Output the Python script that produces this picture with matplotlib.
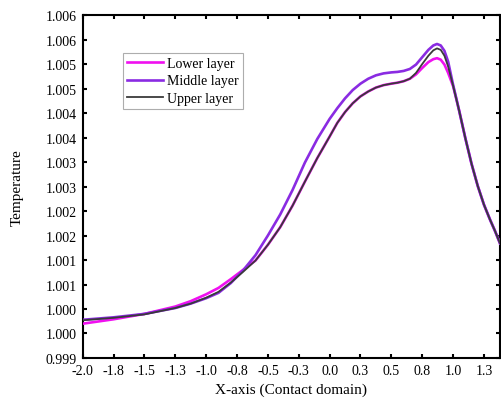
import matplotlib
matplotlib.use("Agg")
import matplotlib.pyplot as plt
from matplotlib.ticker import FixedLocator, FixedFormatter

plt.rcParams['font.family'] = ['Liberation Serif', 'DejaVu Serif']

x = [-2.0, -1.75, -1.5, -1.25, -1.125, -1.0, -0.9, -0.8, -0.7, -0.6, -0.5, -0.4, -0.3, -0.2, -0.1,
     0.0, 0.0625, 0.125, 0.1875, 0.25, 0.3125, 0.375, 0.4375, 0.5, 0.55, 0.6, 0.65, 0.7, 0.75, 0.8,
     0.84, 0.87, 0.9, 0.93, 0.96, 1.0, 1.025, 1.05, 1.075, 1.1, 1.15, 1.2, 1.25, 1.3, 1.34, 1.38]

lower = [0.99970, 0.99979, 0.99990, 1.00005, 1.00016, 1.00030, 1.00043, 1.00061, 1.00080, 1.00099,
         1.00131, 1.00167, 1.00211, 1.00260, 1.00308,
         1.00352, 1.00380, 1.00402, 1.00420, 1.00434, 1.00444, 1.00452, 1.00457, 1.00460, 1.00462,
         1.00465, 1.00470, 1.00479, 1.00492, 1.00504,
         1.00510, 1.00512, 1.00509, 1.00499, 1.00482, 1.00455, 1.00430, 1.00404, 1.00376, 1.00348,
         1.00296, 1.00251, 1.00213, 1.00182, 1.00159, 1.00134]

middle = [0.99978, 0.99983, 0.99990, 1.00002, 1.00011, 1.00022, 1.00033, 1.00053, 1.00079, 1.00110,
          1.00150, 1.00193, 1.00243, 1.00299, 1.00347,
          1.00388, 1.00410, 1.00430, 1.00447, 1.00460, 1.00470, 1.00477, 1.00481, 1.00483, 1.00484,
          1.00486, 1.00490, 1.00499, 1.00514, 1.00529,
          1.00538, 1.00541, 1.00538, 1.00527, 1.00505, 1.00458, 1.00431, 1.00404, 1.00376, 1.00348,
          1.00296, 1.00251, 1.00213, 1.00182, 1.00159, 1.00134]

upper = [0.99977, 0.99982, 0.99989, 1.00002, 1.00011, 1.00023, 1.00035, 1.00054, 1.00076, 1.00099,
         1.00131, 1.00167, 1.00211, 1.00260, 1.00308,
         1.00352, 1.00380, 1.00402, 1.00420, 1.00434, 1.00444, 1.00452, 1.00457, 1.00460, 1.00462,
         1.00465, 1.00470, 1.00482, 1.00500, 1.00517,
         1.00528, 1.00532, 1.00529, 1.00517, 1.00495, 1.00456, 1.00430, 1.00404, 1.00376, 1.00348,
         1.00296, 1.00251, 1.00213, 1.00182, 1.00159, 1.00134]

xticks = [-2.0, -1.75, -1.5, -1.25, -1.0, -0.75, -0.5, -0.25, 0.0, 0.25, 0.5, 0.75, 1.0, 1.25]
xticklabels = ['-2.0', '-1.8', '-1.5', '-1.3', '-1.0', '-0.8', '-0.5', '-0.3', '0.0', '0.3', '0.5', '0.8', '1.0', '1.3']
xlong = [-2.0, -1.5, -1.0, -0.5, 0.0, 0.5, 1.0]

yticks = [0.9990, 0.9995, 1.0000, 1.0005, 1.0010, 1.0015, 1.0020, 1.0025, 1.0030, 1.0035,
          1.0040, 1.0045, 1.0050, 1.0055, 1.0060]
yticklabels = ['0.999', '1.000', '1.000', '1.001', '1.001', '1.002', '1.002', '1.003', '1.003', '1.004',
               '1.004', '1.005', '1.005', '1.006', '1.006']
ylong = [0.9995, 1.0005, 1.0015, 1.0025, 1.0035, 1.0045, 1.0055]

fig = plt.figure(figsize=(5.02, 4.02), dpi=100)
ax = fig.add_axes([0.1647, 0.107, 0.8313, 0.853])

ax.plot(x, lower, color='#f010f0', lw=1.9, label='Lower layer', zorder=3, solid_joinstyle='round')
ax.plot(x, middle, color='#8a2be2', lw=1.9, label='Middle layer', zorder=4, solid_joinstyle='round')
ax.plot(x, upper, color='#3a3a3a', lw=1.3, label='Upper layer', zorder=5, solid_joinstyle='round')

ax.set_xlim(-2.0, 1.38)
ax.set_ylim(0.999, 1.006)

ax.xaxis.set_major_locator(FixedLocator(xticks))
ax.xaxis.set_major_formatter(FixedFormatter(xticklabels))
ax.xaxis.set_minor_locator(FixedLocator(xlong))
ax.yaxis.set_major_locator(FixedLocator(yticks))
ax.yaxis.set_major_formatter(FixedFormatter(yticklabels))
ax.yaxis.set_minor_locator(FixedLocator(ylong))

ax.tick_params(which='major', direction='in', length=3, width=1.5, top=True, right=True,
               labelsize=10, pad=4)
ax.tick_params(which='minor', direction='in', length=5.5, width=1.5, top=True, right=True)
for s in ax.spines.values():
    s.set_linewidth(1.5)

ax.set_xlabel('X-axis (Contact domain)', fontsize=11, labelpad=4)
ax.set_ylabel('Temperature', fontsize=11, labelpad=16)

leg = ax.legend(loc='upper left', bbox_to_anchor=(0.0966, 0.889), borderaxespad=0,
                fontsize=10, frameon=True, fancybox=False, edgecolor='#999999',
                handlelength=2.6, handletextpad=0.3, labelspacing=0.3, borderpad=0.3)
leg.get_frame().set_linewidth(0.8)

fig.savefig('out.png', dpi=100)
